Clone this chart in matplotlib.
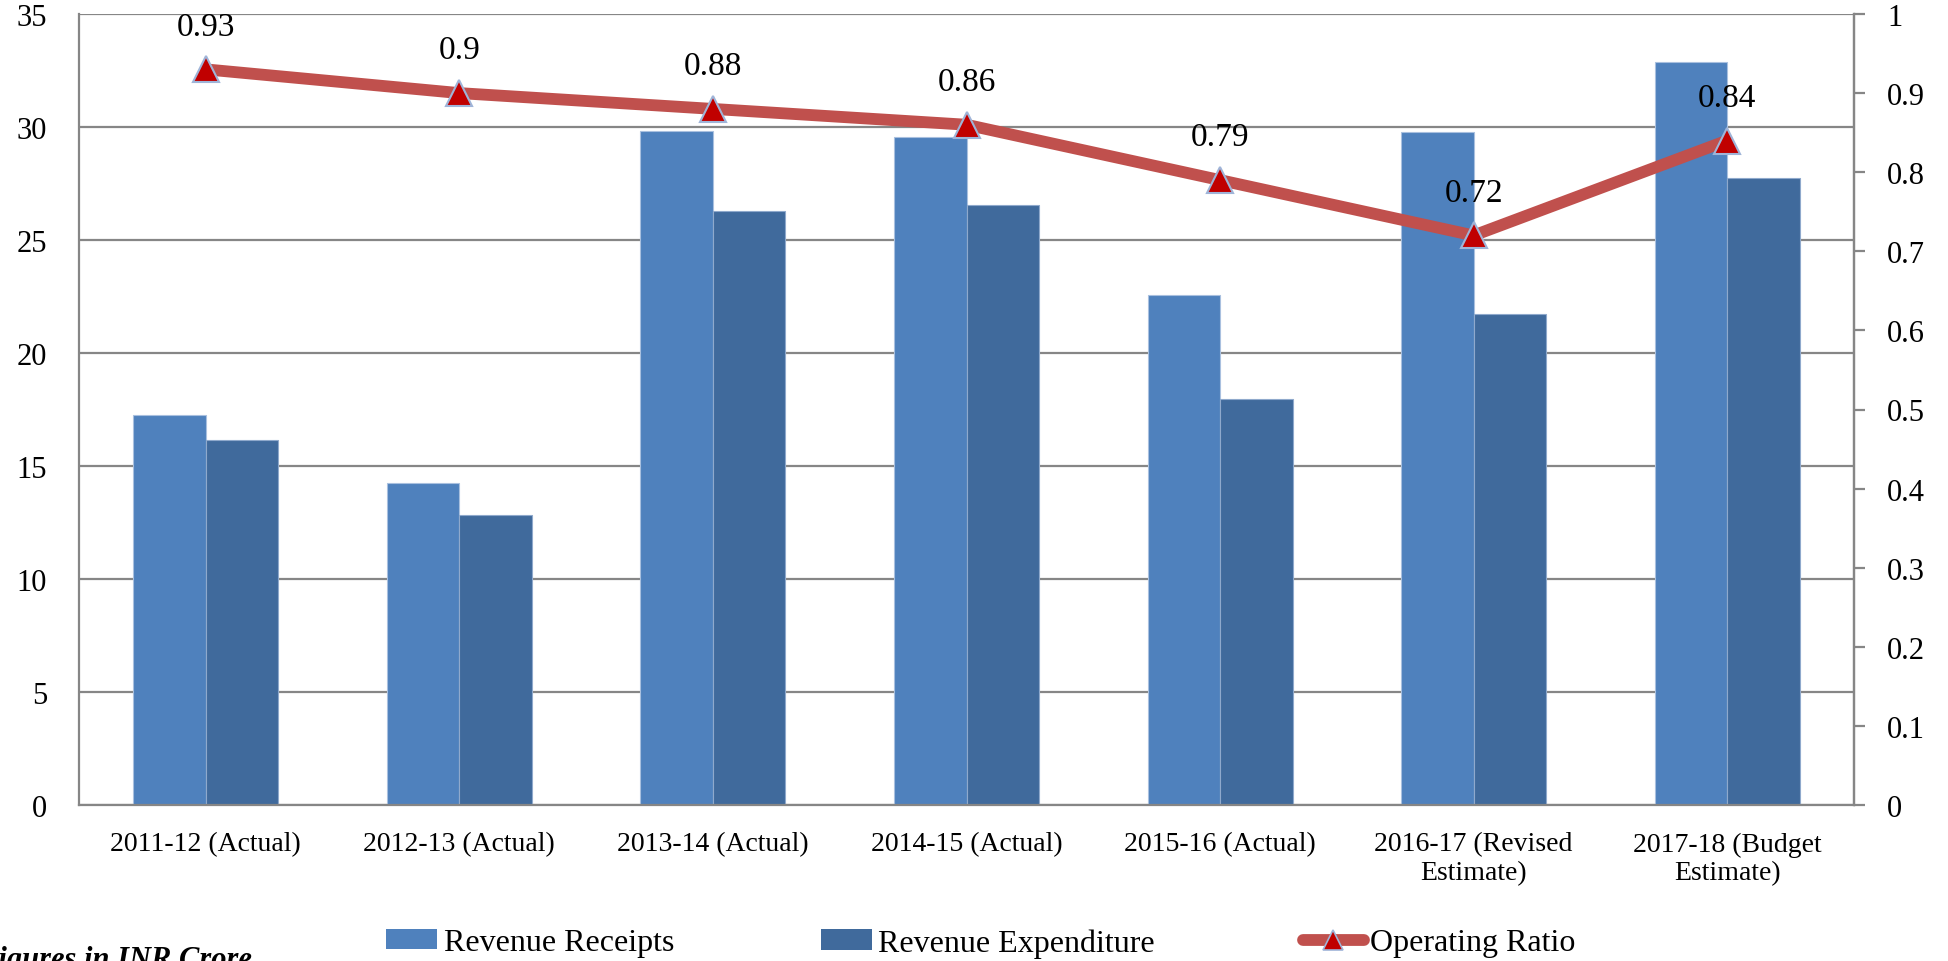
import numpy as np
import matplotlib
matplotlib.use('Agg')
import matplotlib.pyplot as plt
from matplotlib.patches import Patch
from matplotlib.lines import Line2D

# === Data ===
years = ['2011-12 (Actual)', '2012-13 (Actual)', '2013-14 (Actual)',
         '2014-15 (Actual)', '2015-16 (Actual)',
         '2016-17 (Revised\nEstimate)', '2017-18 (Budget\nEstimate)']
revenue_receipts = [17.24, 14.23, 29.84, 29.56, 22.57, 29.79, 32.89]
revenue_expenditure = [16.15, 12.82, 26.30, 26.55, 17.95, 21.73, 27.74]
operating_ratio = [0.93, 0.9, 0.88, 0.86, 0.79, 0.72, 0.84]
ratio_labels = ['0.93', '0.9', '0.88', '0.86', '0.79', '0.72', '0.84']
left_ticks = [0, 5, 10, 15, 20, 25, 30, 35]
right_ticks = [0, 0.1, 0.2, 0.3, 0.4, 0.5, 0.6, 0.7, 0.8, 0.9, 1]

plt.rcParams['font.family'] = ['Liberation Serif', 'DejaVu Serif']

W, H = 1948, 962
fig = plt.figure(figsize=(W / 100, H / 100), dpi=100)
ax = fig.add_axes([79 / W, 1 - 806 / H, (1854 - 79) / W, (806 - 15) / H])

grey = '#868686'
c_rr = '#4F81BD'
c_re = '#406A9C'
x = np.arange(len(years))
bw = 0.286

ax.bar(x - bw / 2, revenue_receipts, bw, color=c_rr, edgecolor='#A9C0DF', linewidth=0.8, zorder=2)
ax.bar(x + bw / 2, revenue_expenditure, bw, color=c_re, edgecolor='#8FA9CC', linewidth=0.8, zorder=2)

ax.set_xlim(-0.5, len(years) - 0.5)
ax.set_ylim(0, 35)
ax.set_yticks(left_ticks)
ax.set_yticklabels([str(t) for t in left_ticks], fontsize=22)
ax.set_xticks(x)
ax.set_xticklabels(years, fontsize=20, linespacing=1.2)
ax.tick_params(axis='y', length=0, pad=23)
ax.tick_params(axis='x', length=0, pad=19)
ax.yaxis.grid(True, color=grey, linewidth=1.6, zorder=0)
ax.set_axisbelow(True)
for s in ['left', 'bottom', 'right']:
    ax.spines[s].set_color(grey)
    ax.spines[s].set_linewidth(1.6)
ax.spines['top'].set_visible(False)

# Operating ratio on secondary axis
ax2 = ax.twinx()
ax2.set_ylim(0, 1)
ax2.set_yticks(right_ticks)
ax2.set_yticklabels(['0', '0.1', '0.2', '0.3', '0.4', '0.5', '0.6', '0.7', '0.8', '0.9', '1'], fontsize=22)
ax2.tick_params(axis='y', direction='out', length=8, width=1.6, color=grey, pad=16)
for s in ['left', 'bottom', 'top']:
    ax2.spines[s].set_visible(False)
ax2.spines['right'].set_color(grey)
ax2.spines['right'].set_linewidth(1.6)

ax2.plot(x, operating_ratio, color='#C0504D', linewidth=8.5, solid_capstyle='round',
         marker='^', markersize=19, markerfacecolor='#C00000',
         markeredgecolor='#9FB4D8', markeredgewidth=1.5, zorder=3)
for xi, v, lab in zip(x, operating_ratio, ratio_labels):
    ax2.annotate(lab, (xi, v), xytext=(0, 31), textcoords='offset points',
                 ha='center', va='center', fontsize=24)

# === Legend ===
fs = 23
handles = [
    Patch(facecolor=c_rr, edgecolor='none'),
    Patch(facecolor=c_re, edgecolor='none'),
    Line2D([0], [0], color='#C0504D', linewidth=8.5, solid_capstyle='round',
           marker='^', markersize=15, markerfacecolor='#C00000',
           markeredgecolor='#9FB4D8', markeredgewidth=1.2),
]
names = ['Revenue Receipts', 'Revenue Expenditure', 'Operating Ratio']
starts = [386, 821, 1303]
hlen = [1.6, 1.6, 1.9]
for h, n, sx, hl in zip(handles, names, starts, hlen):
    fig.legend(handles=[h], labels=[n], loc='center left',
               bbox_to_anchor=(sx / W, 1 - 944 / H), frameon=False,
               borderpad=0, borderaxespad=0, fontsize=fs,
               handlelength=hl, handleheight=0.6, handletextpad=0.2)

fig.text(-22 / W, 1 - 946 / H, 'Figures in INR Crore', fontsize=22,
         fontweight='bold', fontstyle='italic', ha='left', va='top')

fig.savefig('out.png', dpi=100)
